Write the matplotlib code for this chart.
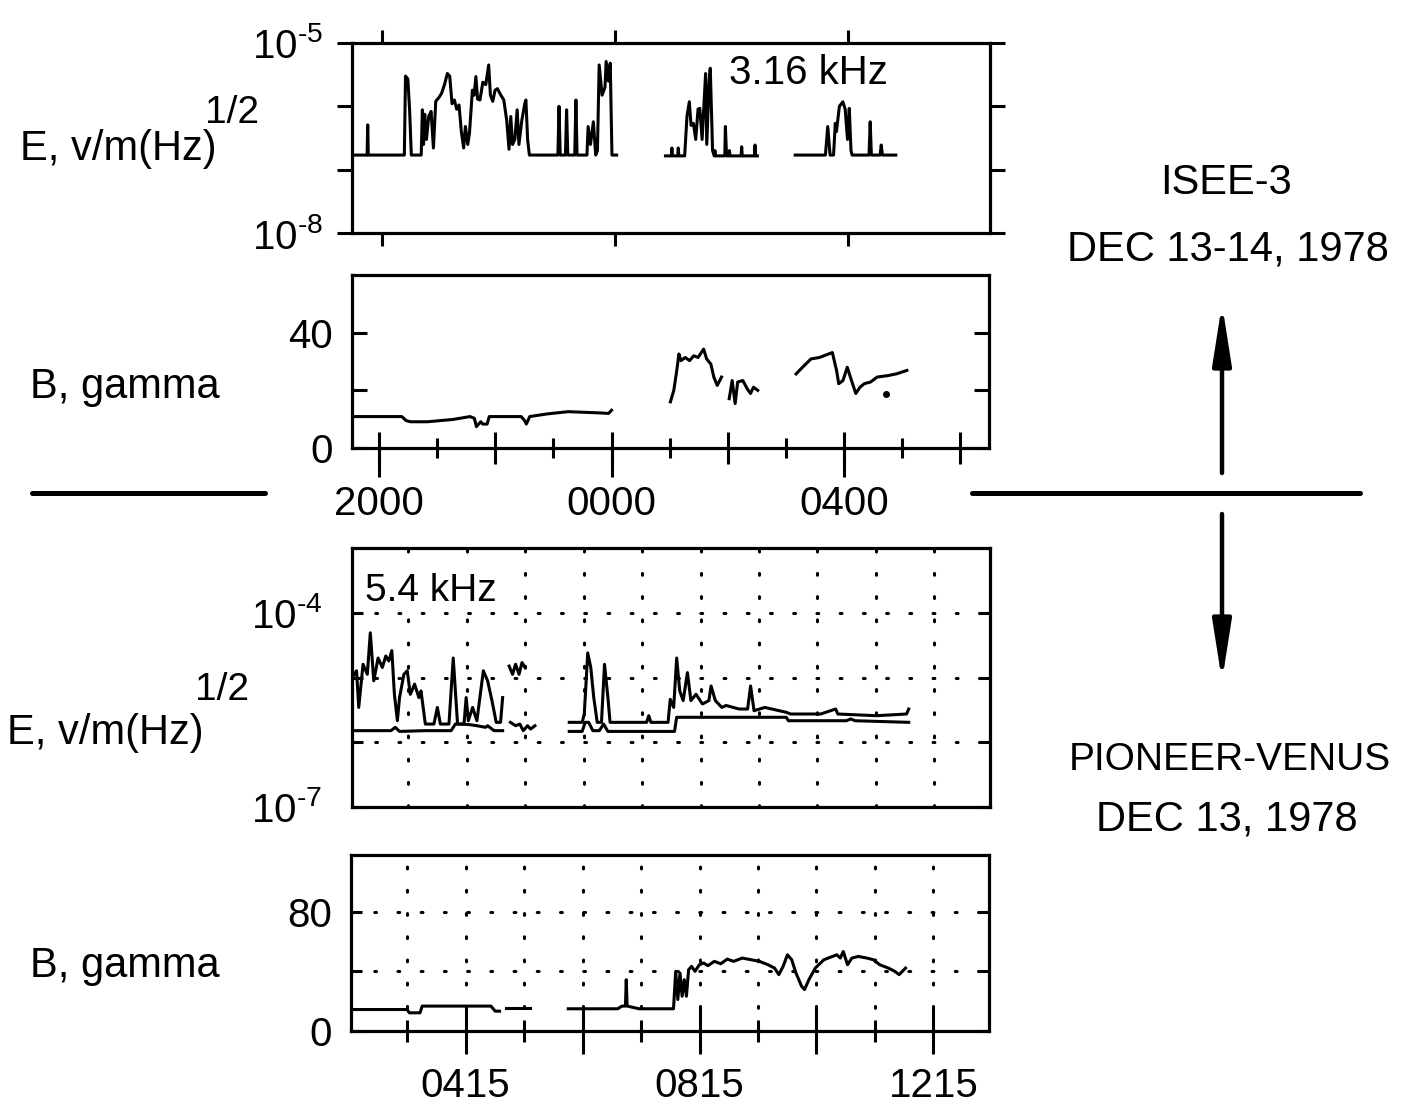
import numpy as np
import matplotlib
matplotlib.use("Agg")
import matplotlib.pyplot as plt
from matplotlib.lines import Line2D
from matplotlib.patches import FancyArrowPatch
from matplotlib.ticker import NullLocator

# ======================= DATA =======================
# Time in hours relative to 0000 UT (ISEE-3: negative = Dec 13, positive = Dec 14)
# ---- ISEE-3, E field at 3.16 kHz, V/m(Hz)^1/2 ----
isee_e_t1 = [-4.48, -4.26, -4.25, -4.24, -3.62, -3.60, -3.56, -3.53, -3.50, -3.33,
             -3.31, -3.29, -3.27, -3.24, -3.20, -3.16, -3.12, -3.08, -3.02, -2.98,
             -2.93, -2.88, -2.84, -2.80, -2.76, -2.72, -2.68, -2.64, -2.60, -2.57,
             -2.53, -2.50, -2.45, -2.42, -2.39, -2.36, -2.32, -2.27, -2.22, -2.17,
             -2.14, -2.10, -2.06, -2.02, -1.96, -1.91, -1.86, -1.82, -1.79, -1.76,
             -1.72, -1.68, -1.65, -1.60, -1.55, -1.53, -1.50, -1.47, -0.98, -0.96,
             -0.94, -0.85, -0.83, -0.81, -0.69, -0.67, -0.65, -0.48, -0.46, -0.42,
             -0.37, -0.33, -0.30, -0.27, -0.22, -0.17, -0.15, -0.11, -0.08, -0.05,
             0.03]
isee_e_v1 = [1.7e-7, 1.7e-7, 5.1e-7, 1.7e-7, 1.7e-7, 3.0e-6, 2.7e-6, 9.0e-7, 1.7e-7, 1.7e-7,
             8.8e-7, 2.5e-7, 7.5e-7, 3.0e-7, 7.0e-7, 8.3e-7, 2.2e-7, 1.2e-6, 1.4e-6, 1.6e-6,
             2.2e-6, 3.3e-6, 3.0e-6, 1.1e-6, 1.26e-6, 9.0e-7, 1.05e-6, 4.0e-7, 2.2e-7, 4.8e-7,
             2.5e-7, 3.8e-7, 1.8e-6, 1.5e-6, 2.95e-6, 1.3e-6, 1.26e-6, 2.4e-6, 2.2e-6, 4.5e-6,
             1.5e-6, 1.2e-6, 1.8e-6, 1.9e-6, 1.5e-6, 1.26e-6, 6.0e-7, 2.1e-7, 6.9e-7, 2.5e-7,
             3.0e-7, 8.8e-7, 2.5e-7, 6.0e-7, 1.1e-6, 1.26e-6, 2.95e-7, 1.7e-7, 1.7e-7, 1.0e-6,
             1.7e-7, 1.7e-7, 8.8e-7, 1.7e-7, 1.7e-7, 1.26e-6, 1.7e-7, 1.7e-7, 4.8e-7, 2.5e-7,
             5.7e-7, 1.7e-7, 2.0e-7, 4.5e-6, 1.5e-6, 2.0e-6, 5.1e-6, 2.5e-6, 4.8e-6, 1.7e-7,
             1.7e-7]
isee_e_t2 = [0.87, 0.97, 0.98, 0.99, 1.08, 1.09, 1.10, 1.20, 1.24, 1.28,
             1.31, 1.35, 1.39, 1.43, 1.46, 1.50, 1.53, 1.56, 1.58, 1.62,
             1.64, 1.68, 1.71, 1.72, 1.73, 1.89, 1.90, 1.92, 1.96, 1.97,
             1.98, 2.17, 2.18, 2.19, 2.40, 2.41, 2.42, 2.45]
isee_e_v2 = [1.65e-7, 1.65e-7, 2.2e-7, 1.65e-7, 1.65e-7, 2.2e-7, 1.65e-7, 1.65e-7, 7.0e-7, 1.18e-6,
             5.0e-7, 5.4e-7, 3.0e-7, 9.0e-7, 9.3e-7, 3.0e-7, 1.0e-6, 3.3e-6, 2.5e-7, 2.5e-6,
             4.0e-6, 2.0e-7, 1.65e-7, 2.0e-7, 1.65e-7, 1.65e-7, 4.8e-7, 1.65e-7, 1.65e-7, 2.0e-7,
             1.65e-7, 1.65e-7, 2.3e-7, 1.65e-7, 1.65e-7, 2.45e-7, 1.65e-7, 1.65e-7]
isee_e_t3 = [3.10, 3.62, 3.66, 3.70, 3.76, 3.79, 3.81, 3.86, 3.92, 3.96,
             4.00, 4.03, 4.06, 4.08, 4.37, 4.39, 4.41, 4.56, 4.58, 4.60, 4.83]
isee_e_v3 = [1.7e-7, 1.7e-7, 4.8e-7, 1.7e-7, 1.7e-7, 5.4e-7, 4.0e-7, 1.0e-6, 1.18e-6, 9.0e-7,
             3.0e-7, 9.3e-7, 2.0e-7, 1.7e-7, 1.7e-7, 5.7e-7, 1.7e-7, 1.7e-7, 2.45e-7, 1.7e-7, 1.7e-7]

# ---- ISEE-3, B, gamma ----
isee_b_t1 = [-4.492, -3.611, -3.538, -3.464, -3.171, -2.730, -2.437, -2.363, -2.327, -2.253,
             -2.217, -2.143, -2.106, -1.556, -1.497, -1.468, -1.409, -1.116, -0.749, -0.235,
             -0.051, 0.0]
isee_b_v1 = [10.9, 10.9, 9.5, 9.1, 9.1, 9.9, 10.9, 10.3, 7.4, 9.1,
             8.3, 8.3, 10.9, 10.9, 9.5, 8.3, 10.9, 11.8, 12.6, 12.2,
             12.0, 13.1]
isee_b_t2 = [1.013, 1.072, 1.123, 1.160, 1.196, 1.270, 1.343, 1.417, 1.490, 1.585,
             1.637, 1.710, 1.761, 1.820, 1.894]
isee_b_v2 = [16.0, 20.0, 26.9, 32.6, 30.3, 31.4, 30.3, 32.0, 31.4, 34.3,
             30.9, 29.1, 24.6, 21.7, 24.6]
isee_b_t3 = [2.026, 2.077, 2.128, 2.172, 2.261, 2.334, 2.393, 2.444, 2.517]
isee_b_v3 = [17.1, 23.4, 15.4, 22.9, 23.4, 20.6, 18.9, 21.1, 20.0]
isee_b_t4 = [3.178, 3.288, 3.435, 3.582, 3.802, 3.875, 3.912, 3.985, 4.059, 4.132,
             4.206, 4.279, 4.352, 4.462, 4.573, 4.756, 4.903, 5.086]
isee_b_v4 = [25.7, 28.0, 30.9, 31.4, 33.1, 26.9, 22.3, 23.4, 28.0, 23.4,
             18.9, 21.1, 22.3, 22.9, 24.6, 25.1, 25.7, 26.9]
isee_b_dot_t = [4.719]
isee_b_dot_v = [18.6]

isee_tick_major = [-4, -2, 0, 2, 4, 6]
isee_tick_minor = [-3, -1, 1, 3, 5]
isee_label_pos = [-4, 0, 4]
isee_labels = ['2000', '0000', '0400']

# ---- Pioneer-Venus, E field at 5.4 kHz (hours UT, Dec 13) ----
pv_e_up_t1 = [2.295, 2.368, 2.405, 2.479, 2.552, 2.603, 2.662, 2.736, 2.809, 2.868,
              2.919, 2.971, 3.015, 3.066, 3.103, 3.177, 3.235, 3.287, 3.360, 3.434,
              3.470, 3.544, 3.691, 3.750, 3.801, 3.948, 4.021, 4.095, 4.205, 4.242,
              4.279, 4.352, 4.426, 4.536, 4.609, 4.683, 4.756, 4.830, 4.866]
pv_e_up_v1 = [1.0e-5, 1.27e-5, 3.45e-6, 1.6e-5, 1.12e-5, 4.9e-5, 8.9e-6, 2.0e-5, 1.43e-5, 2.15e-5,
              1.8e-5, 2.6e-5, 5.5e-6, 2.15e-6, 4.9e-6, 1.12e-5, 1.27e-5, 5.5e-6, 7.9e-6, 4.9e-6,
              6.2e-6, 1.91e-6, 1.91e-6, 3.45e-6, 1.91e-6, 1.91e-6, 2.0e-5, 1.91e-6, 1.91e-6, 4.9e-6,
              2.15e-6, 3.45e-6, 2.15e-6, 1.27e-5, 8.9e-6, 4.4e-6, 2.03e-6, 2.03e-6, 4.9e-6]
pv_e_lo_t1 = [2.295, 2.956, 3.030, 3.103, 3.544, 3.985, 4.058, 4.132, 4.279, 4.426,
              4.573, 4.609, 4.719, 4.866]
pv_e_lo_v1 = [1.51e-6, 1.51e-6, 1.7e-6, 1.47e-6, 1.51e-6, 1.51e-6, 1.91e-6, 1.91e-6, 1.88e-6, 1.8e-6,
              1.7e-6, 1.8e-6, 1.51e-6, 1.51e-6]
pv_e_up_t2 = [4.977, 5.036, 5.087, 5.146, 5.197, 5.248]
pv_e_up_v2 = [1.5e-5, 1.12e-5, 1.6e-5, 1.12e-5, 1.7e-5, 1.43e-5]
pv_e_lo_t2 = [4.999, 5.087, 5.160, 5.219, 5.292, 5.344, 5.418]
pv_e_lo_v2 = [2.03e-6, 1.8e-6, 1.91e-6, 1.51e-6, 1.8e-6, 1.6e-6, 1.8e-6]
pv_e_up_t3 = [6.005, 6.226, 6.262, 6.321, 6.373, 6.424, 6.483, 6.556, 6.608, 6.666,
              6.703, 7.328, 7.365, 7.401, 7.695, 7.732, 7.791, 7.842, 7.894, 7.953,
              8.026, 8.085, 8.173, 8.283, 8.393, 8.430, 8.503, 8.614, 8.687, 8.908,
              9.055, 9.106, 9.165, 9.349, 9.716, 9.789, 10.304, 10.561, 10.598, 11.259,
              11.773, 11.810]
pv_e_up_v3 = [2.03e-6, 2.03e-6, 2.73e-6, 2.4e-5, 1.43e-5, 4.9e-6, 2.03e-6, 2.03e-6, 1.6e-5, 4.9e-6,
              2.03e-6, 2.03e-6, 2.57e-6, 2.03e-6, 2.03e-6, 4.6e-6, 3.45e-6, 2.0e-5, 6.2e-6, 4.4e-6,
              1.19e-5, 4.4e-6, 5.5e-6, 3.9e-6, 4.4e-6, 7.4e-6, 4.4e-6, 3.45e-6, 3.7e-6, 3.26e-6,
              3.26e-6, 7.4e-6, 3.07e-6, 3.45e-6, 2.9e-6, 2.73e-6, 2.73e-6, 3.26e-6, 2.73e-6, 2.57e-6,
              2.73e-6, 3.26e-6]
pv_e_lo_t3 = [6.005, 6.226, 6.277, 6.336, 6.409, 6.519, 6.592, 6.666, 7.805, 7.842,
              9.716, 9.753, 10.745, 10.818, 10.892, 11.810]
pv_e_lo_v3 = [1.47e-6, 1.47e-6, 2.03e-6, 2.03e-6, 1.51e-6, 1.51e-6, 1.91e-6, 1.47e-6, 1.47e-6, 2.43e-6,
              2.43e-6, 2.15e-6, 2.15e-6, 2.29e-6, 2.15e-6, 2.03e-6]

# ---- Pioneer-Venus, B, gamma ----
pv_b_t1 = [2.295, 3.25, 3.287, 3.47, 3.507, 4.683, 4.756, 4.83]
pv_b_v1 = [14.4, 14.4, 12.2, 12.2, 16.7, 16.7, 13.3, 13.3]
pv_b_t2 = [4.94, 5.344]
pv_b_v2 = [15.6, 15.6]
pv_b_t3 = [6.005, 6.850, 6.924, 6.983, 6.997, 7.012, 7.218, 7.805, 7.842, 7.879,
           7.916, 7.952, 7.989, 8.026, 8.063, 8.114, 8.173, 8.246, 8.320, 8.393,
           8.503, 8.614, 8.724, 8.834, 8.981, 9.128, 9.275, 9.422, 9.532, 9.606,
           9.679, 9.753, 9.826, 9.899, 9.995, 10.046, 10.120, 10.230, 10.377, 10.524,
           10.598, 10.657, 10.708, 10.781, 10.855, 10.965, 11.112, 11.222, 11.332, 11.479,
           11.589, 11.663, 11.773]
pv_b_v3 = [14.9, 14.9, 16.7, 16.7, 34.4, 16.7, 14.9, 14.9, 40.0, 21.1,
           38.9, 23.3, 34.4, 23.3, 41.1, 43.3, 40.0, 44.4, 45.6, 43.8,
           46.7, 45.1, 48.2, 46.7, 48.9, 47.8, 46.7, 44.4, 42.2, 37.8,
           43.3, 51.1, 47.8, 38.9, 30.0, 27.8, 34.4, 42.2, 47.8, 50.0,
           51.1, 48.9, 53.3, 44.4, 48.9, 50.0, 48.9, 47.8, 44.4, 42.2,
           40.0, 37.8, 42.2]

pv_tick_major = [4.25, 6.25, 8.25, 10.25, 12.25]
pv_tick_minor = [3.25, 5.25, 7.25, 9.25, 11.25]
pv_labels = ['0415', '', '0815', '', '1215']
pv_grid_hours = [3.25, 4.25, 5.25, 6.25, 7.25, 8.25, 9.25, 10.25, 11.25, 12.25]

# ======================= STYLE / LAYOUT =======================
plt.rcParams['font.family'] = ['Liberation Sans', 'DejaVu Sans']
plt.rcParams['mathtext.fontset'] = 'custom'
plt.rcParams['mathtext.rm'] = 'Liberation Sans'
plt.rcParams['mathtext.it'] = 'Liberation Sans:italic'
plt.rcParams['mathtext.bf'] = 'Liberation Sans:bold'

W, H = 1407, 1104
fig = plt.figure(figsize=(W / 100, H / 100), dpi=100)
fig.patch.set_facecolor('white')


def rect(l, t, r, b):
    return [l / W, 1 - b / H, (r - l) / W, (b - t) / H]


def ftext(x, y, s, **kw):
    fig.text(x / W, 1 - y / H, s, **kw)


LW_FRAME = 2.3
LW_DATA = 2.2
TW = 2.2
FS = 29
GRID = dict(color='k', linestyle=(0, (0.6, 7)), linewidth=2.2, dash_capstyle='round')


def pw(e):
    # short hyphen-style minus as in the original typesetting
    return r'$\mathregular{10^{' + '\u2010' + str(abs(e)) + r'}}$'


def frame(ax):
    for s in ax.spines.values():
        s.set_linewidth(LW_FRAME)


# ---- ISEE-3 E ----
axE1 = fig.add_axes(rect(352, 43, 990, 233))
frame(axE1)
axE1.set_yscale('log')
axE1.set_ylim(1e-8, 1e-5)
axE1.set_xlim(-4.52, 6.45)
axE1.set_yticks([1e-8, 1e-7, 1e-6, 1e-5], [pw(-8), '', '', pw(-5)])
axE1.yaxis.set_minor_locator(NullLocator())
axE1.set_xticks(isee_label_pos, [])
axE1.tick_params(axis='y', direction='out', length=10.8, width=TW, left=True, right=True,
                 labelsize=FS, pad=10)
axE1.tick_params(axis='x', direction='out', length=9.4, width=TW, top=True, bottom=True,
                 labelbottom=False)
for t, v in [(isee_e_t1, isee_e_v1), (isee_e_t2, isee_e_v2), (isee_e_t3, isee_e_v3)]:
    axE1.plot(t, v, color='k', lw=LW_DATA)
axE1.text(0.715, 0.842, '3.16 kHz', transform=axE1.transAxes, ha='center', va='center',
          fontsize=29)

# ---- ISEE-3 B ----
axB1 = fig.add_axes(rect(352, 275, 989, 448))
frame(axB1)
axB1.set_xlim(-4.47, 6.5)
axB1.set_ylim(0, 60)
axB1.set_yticks([0, 20, 40], ['0', '', '40'])
axB1.tick_params(axis='y', direction='in', length=11, width=TW, left=True, right=True,
                 labelsize=FS, pad=13.7)
axB1.set_xticks(isee_tick_major, [])
axB1.set_xticks(isee_tick_minor, minor=True)
axB1.tick_params(axis='x', which='major', direction='inout', length=23, width=TW)
axB1.tick_params(axis='x', which='minor', direction='inout', length=14, width=TW)
sec1 = axB1.secondary_xaxis('bottom')
sec1.set_xticks(isee_label_pos, isee_labels)
sec1.tick_params(direction='out', length=21, width=TW, labelsize=FS, pad=5.6)
sec1.spines['bottom'].set_visible(False)
for t, v in [(isee_b_t1, isee_b_v1), (isee_b_t2, isee_b_v2), (isee_b_t3, isee_b_v3),
             (isee_b_t4, isee_b_v4)]:
    axB1.plot(t, v, color='k', lw=LW_DATA)
axB1.plot(isee_b_dot_t, isee_b_dot_v, 'o', color='k', ms=4)

# ---- Pioneer-Venus E ----
axE2 = fig.add_axes(rect(352, 548, 990, 807))
frame(axE2)
axE2.set_yscale('log')
axE2.set_ylim(1e-7, 1e-3)
axE2.set_xlim(2.29, 13.2)
axE2.set_yticks([1e-7, 1e-6, 1e-5, 1e-4], [pw(-7), '', '', pw(-4)])
axE2.yaxis.set_minor_locator(NullLocator())
axE2.tick_params(axis='y', direction='in', length=8, width=TW, left=True, right=True,
                 labelsize=FS, pad=21.6)
axE2.set_xticks(pv_grid_hours, [])
axE2.tick_params(axis='x', length=0)
axE2.grid(True, which='major', **GRID)
for t, v in [(pv_e_up_t1, pv_e_up_v1), (pv_e_lo_t1, pv_e_lo_v1), (pv_e_up_t2, pv_e_up_v2),
             (pv_e_lo_t2, pv_e_lo_v2), (pv_e_up_t3, pv_e_up_v3), (pv_e_lo_t3, pv_e_lo_v3)]:
    axE2.plot(t, v, color='k', lw=LW_DATA)
axE2.text(0.02, 0.834, '5.4 kHz', transform=axE2.transAxes, ha='left', va='center',
          fontsize=28, bbox=dict(facecolor='white', edgecolor='none', pad=1))

# ---- Pioneer-Venus B ----
axB2 = fig.add_axes(rect(351, 855, 989, 1031))
frame(axB2)
axB2.set_xlim(2.29, 13.2)
axB2.set_ylim(0, 118)
axB2.set_yticks([0, 40, 80], ['0', '', '80'])
axB2.tick_params(axis='y', direction='in', length=8, width=TW, left=True, right=True,
                 labelsize=FS, pad=13.7)
axB2.set_xticks(pv_tick_major, pv_labels)
axB2.set_xticks(pv_tick_minor, minor=True)
axB2.tick_params(axis='x', which='major', direction='inout', length=33, width=TW,
                 labelsize=FS, pad=9.5)
axB2.tick_params(axis='x', which='minor', direction='inout', length=16, width=TW)
axB2.grid(True, which='both', axis='x', **GRID)
axB2.grid(True, which='major', axis='y', **GRID)
for t, v in [(pv_b_t1, pv_b_v1), (pv_b_t2, pv_b_v2), (pv_b_t3, pv_b_v3)]:
    axB2.plot(t, v, color='k', lw=LW_DATA)

# ---- axis titles ----
ftext(20, 149, 'E, v/m(Hz)', fontsize=30, ha='left', va='center')
ftext(205, 113, '1/2', fontsize=28, ha='left', va='center')
ftext(30, 387, 'B, gamma', fontsize=30, ha='left', va='center')
ftext(7, 733, 'E, v/m(Hz)', fontsize=30, ha='left', va='center')
ftext(195, 690, '1/2', fontsize=28, ha='left', va='center')
ftext(30, 966, 'B, gamma', fontsize=30, ha='left', va='center')

# ---- right-hand annotations ----
ftext(1226, 183, 'ISEE-3', fontsize=30, ha='center', va='center')
ftext(1228, 249, 'DEC 13-14, 1978', fontsize=30, ha='center', va='center')
ftext(1230, 760, 'PIONEER-VENUS', fontsize=28, ha='center', va='center')
ftext(1227, 820, 'DEC 13, 1978', fontsize=30, ha='center', va='center')

# divider lines
fig.add_artist(Line2D([32 / W, 265 / W], [1 - 493 / H] * 2, color='k', lw=3.6,
                      solid_capstyle='round'))
fig.add_artist(Line2D([972 / W, 1360 / W], [1 - 493 / H] * 2, color='k', lw=3.6,
                      solid_capstyle='round'))

# arrows
for y0, y1 in [(473, 304), (514, 681)]:
    fig.add_artist(FancyArrowPatch((1222 / W, 1 - y0 / H), (1222 / W, 1 - y1 / H),
                                   transform=fig.transFigure,
                                   arrowstyle='-|>,head_length=0.95,head_width=0.15',
                                   mutation_scale=38, lw=3.2, color='k',
                                   shrinkA=0, shrinkB=0))

fig.savefig('out.png', dpi=100, facecolor='white')
